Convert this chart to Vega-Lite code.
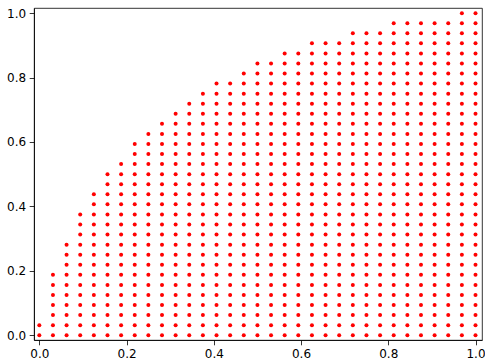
{
"$schema":"https://vega.github.io/schema/vega-lite/v6.json",
"width":448,"height":332,
"autosize":{"type":"none"},
"padding":{"left":34,"top":8,"right":3,"bottom":20},
"config":{"view":{"stroke":"#000000","strokeWidth":0.8},
"axis":{"grid":false,"domainColor":"#000000","domainWidth":0.8,"tickColor":"#000000","tickWidth":0.8,"tickSize":4.8,"labelFont":"DejaVu Sans","labelFontSize":12,"labelColor":"#000000","labelPadding":3.5,"title":null}},
"data":{"values":[
{"x":0,"y":0},{"x":0,"y":0.03125},
{"x":0.03125,"y":0},{"x":0.03125,"y":0.03125},{"x":0.03125,"y":0.0625},{"x":0.03125,"y":0.09375},{"x":0.03125,"y":0.125},{"x":0.03125,"y":0.15625},{"x":0.03125,"y":0.1875},
{"x":0.0625,"y":0},{"x":0.0625,"y":0.03125},{"x":0.0625,"y":0.0625},{"x":0.0625,"y":0.09375},{"x":0.0625,"y":0.125},{"x":0.0625,"y":0.15625},{"x":0.0625,"y":0.1875},{"x":0.0625,"y":0.21875},{"x":0.0625,"y":0.25},{"x":0.0625,"y":0.28125},
{"x":0.09375,"y":0},{"x":0.09375,"y":0.03125},{"x":0.09375,"y":0.0625},{"x":0.09375,"y":0.09375},{"x":0.09375,"y":0.125},{"x":0.09375,"y":0.15625},{"x":0.09375,"y":0.1875},{"x":0.09375,"y":0.21875},{"x":0.09375,"y":0.25},{"x":0.09375,"y":0.28125},{"x":0.09375,"y":0.3125},{"x":0.09375,"y":0.34375},{"x":0.09375,"y":0.375},
{"x":0.125,"y":0},{"x":0.125,"y":0.03125},{"x":0.125,"y":0.0625},{"x":0.125,"y":0.09375},{"x":0.125,"y":0.125},{"x":0.125,"y":0.15625},{"x":0.125,"y":0.1875},{"x":0.125,"y":0.21875},{"x":0.125,"y":0.25},{"x":0.125,"y":0.28125},{"x":0.125,"y":0.3125},{"x":0.125,"y":0.34375},{"x":0.125,"y":0.375},{"x":0.125,"y":0.40625},{"x":0.125,"y":0.4375},
{"x":0.15625,"y":0},{"x":0.15625,"y":0.03125},{"x":0.15625,"y":0.0625},{"x":0.15625,"y":0.09375},{"x":0.15625,"y":0.125},{"x":0.15625,"y":0.15625},{"x":0.15625,"y":0.1875},{"x":0.15625,"y":0.21875},{"x":0.15625,"y":0.25},{"x":0.15625,"y":0.28125},{"x":0.15625,"y":0.3125},{"x":0.15625,"y":0.34375},{"x":0.15625,"y":0.375},{"x":0.15625,"y":0.40625},{"x":0.15625,"y":0.4375},{"x":0.15625,"y":0.46875},{"x":0.15625,"y":0.5},
{"x":0.1875,"y":0},{"x":0.1875,"y":0.03125},{"x":0.1875,"y":0.0625},{"x":0.1875,"y":0.09375},{"x":0.1875,"y":0.125},{"x":0.1875,"y":0.15625},{"x":0.1875,"y":0.1875},{"x":0.1875,"y":0.21875},{"x":0.1875,"y":0.25},{"x":0.1875,"y":0.28125},{"x":0.1875,"y":0.3125},{"x":0.1875,"y":0.34375},{"x":0.1875,"y":0.375},{"x":0.1875,"y":0.40625},{"x":0.1875,"y":0.4375},{"x":0.1875,"y":0.46875},{"x":0.1875,"y":0.5},{"x":0.1875,"y":0.53125},
{"x":0.21875,"y":0},{"x":0.21875,"y":0.03125},{"x":0.21875,"y":0.0625},{"x":0.21875,"y":0.09375},{"x":0.21875,"y":0.125},{"x":0.21875,"y":0.15625},{"x":0.21875,"y":0.1875},{"x":0.21875,"y":0.21875},{"x":0.21875,"y":0.25},{"x":0.21875,"y":0.28125},{"x":0.21875,"y":0.3125},{"x":0.21875,"y":0.34375},{"x":0.21875,"y":0.375},{"x":0.21875,"y":0.40625},{"x":0.21875,"y":0.4375},{"x":0.21875,"y":0.46875},{"x":0.21875,"y":0.5},{"x":0.21875,"y":0.53125},{"x":0.21875,"y":0.5625},{"x":0.21875,"y":0.59375},
{"x":0.25,"y":0},{"x":0.25,"y":0.03125},{"x":0.25,"y":0.0625},{"x":0.25,"y":0.09375},{"x":0.25,"y":0.125},{"x":0.25,"y":0.15625},{"x":0.25,"y":0.1875},{"x":0.25,"y":0.21875},{"x":0.25,"y":0.25},{"x":0.25,"y":0.28125},{"x":0.25,"y":0.3125},{"x":0.25,"y":0.34375},{"x":0.25,"y":0.375},{"x":0.25,"y":0.40625},{"x":0.25,"y":0.4375},{"x":0.25,"y":0.46875},{"x":0.25,"y":0.5},{"x":0.25,"y":0.53125},{"x":0.25,"y":0.5625},{"x":0.25,"y":0.59375},{"x":0.25,"y":0.625},
{"x":0.28125,"y":0},{"x":0.28125,"y":0.03125},{"x":0.28125,"y":0.0625},{"x":0.28125,"y":0.09375},{"x":0.28125,"y":0.125},{"x":0.28125,"y":0.15625},{"x":0.28125,"y":0.1875},{"x":0.28125,"y":0.21875},{"x":0.28125,"y":0.25},{"x":0.28125,"y":0.28125},{"x":0.28125,"y":0.3125},{"x":0.28125,"y":0.34375},{"x":0.28125,"y":0.375},{"x":0.28125,"y":0.40625},{"x":0.28125,"y":0.4375},{"x":0.28125,"y":0.46875},{"x":0.28125,"y":0.5},{"x":0.28125,"y":0.53125},{"x":0.28125,"y":0.5625},{"x":0.28125,"y":0.59375},{"x":0.28125,"y":0.625},{"x":0.28125,"y":0.65625},
{"x":0.3125,"y":0},{"x":0.3125,"y":0.03125},{"x":0.3125,"y":0.0625},{"x":0.3125,"y":0.09375},{"x":0.3125,"y":0.125},{"x":0.3125,"y":0.15625},{"x":0.3125,"y":0.1875},{"x":0.3125,"y":0.21875},{"x":0.3125,"y":0.25},{"x":0.3125,"y":0.28125},{"x":0.3125,"y":0.3125},{"x":0.3125,"y":0.34375},{"x":0.3125,"y":0.375},{"x":0.3125,"y":0.40625},{"x":0.3125,"y":0.4375},{"x":0.3125,"y":0.46875},{"x":0.3125,"y":0.5},{"x":0.3125,"y":0.53125},{"x":0.3125,"y":0.5625},{"x":0.3125,"y":0.59375},{"x":0.3125,"y":0.625},{"x":0.3125,"y":0.65625},{"x":0.3125,"y":0.6875},
{"x":0.34375,"y":0},{"x":0.34375,"y":0.03125},{"x":0.34375,"y":0.0625},{"x":0.34375,"y":0.09375},{"x":0.34375,"y":0.125},{"x":0.34375,"y":0.15625},{"x":0.34375,"y":0.1875},{"x":0.34375,"y":0.21875},{"x":0.34375,"y":0.25},{"x":0.34375,"y":0.28125},{"x":0.34375,"y":0.3125},{"x":0.34375,"y":0.34375},{"x":0.34375,"y":0.375},{"x":0.34375,"y":0.40625},{"x":0.34375,"y":0.4375},{"x":0.34375,"y":0.46875},{"x":0.34375,"y":0.5},{"x":0.34375,"y":0.53125},{"x":0.34375,"y":0.5625},{"x":0.34375,"y":0.59375},{"x":0.34375,"y":0.625},{"x":0.34375,"y":0.65625},{"x":0.34375,"y":0.6875},{"x":0.34375,"y":0.71875},
{"x":0.375,"y":0},{"x":0.375,"y":0.03125},{"x":0.375,"y":0.0625},{"x":0.375,"y":0.09375},{"x":0.375,"y":0.125},{"x":0.375,"y":0.15625},{"x":0.375,"y":0.1875},{"x":0.375,"y":0.21875},{"x":0.375,"y":0.25},{"x":0.375,"y":0.28125},{"x":0.375,"y":0.3125},{"x":0.375,"y":0.34375},{"x":0.375,"y":0.375},{"x":0.375,"y":0.40625},{"x":0.375,"y":0.4375},{"x":0.375,"y":0.46875},{"x":0.375,"y":0.5},{"x":0.375,"y":0.53125},{"x":0.375,"y":0.5625},{"x":0.375,"y":0.59375},{"x":0.375,"y":0.625},{"x":0.375,"y":0.65625},{"x":0.375,"y":0.6875},{"x":0.375,"y":0.71875},{"x":0.375,"y":0.75},
{"x":0.40625,"y":0},{"x":0.40625,"y":0.03125},{"x":0.40625,"y":0.0625},{"x":0.40625,"y":0.09375},{"x":0.40625,"y":0.125},{"x":0.40625,"y":0.15625},{"x":0.40625,"y":0.1875},{"x":0.40625,"y":0.21875},{"x":0.40625,"y":0.25},{"x":0.40625,"y":0.28125},{"x":0.40625,"y":0.3125},{"x":0.40625,"y":0.34375},{"x":0.40625,"y":0.375},{"x":0.40625,"y":0.40625},{"x":0.40625,"y":0.4375},{"x":0.40625,"y":0.46875},{"x":0.40625,"y":0.5},{"x":0.40625,"y":0.53125},{"x":0.40625,"y":0.5625},{"x":0.40625,"y":0.59375},{"x":0.40625,"y":0.625},{"x":0.40625,"y":0.65625},{"x":0.40625,"y":0.6875},{"x":0.40625,"y":0.71875},{"x":0.40625,"y":0.75},{"x":0.40625,"y":0.78125},
{"x":0.4375,"y":0},{"x":0.4375,"y":0.03125},{"x":0.4375,"y":0.0625},{"x":0.4375,"y":0.09375},{"x":0.4375,"y":0.125},{"x":0.4375,"y":0.15625},{"x":0.4375,"y":0.1875},{"x":0.4375,"y":0.21875},{"x":0.4375,"y":0.25},{"x":0.4375,"y":0.28125},{"x":0.4375,"y":0.3125},{"x":0.4375,"y":0.34375},{"x":0.4375,"y":0.375},{"x":0.4375,"y":0.40625},{"x":0.4375,"y":0.4375},{"x":0.4375,"y":0.46875},{"x":0.4375,"y":0.5},{"x":0.4375,"y":0.53125},{"x":0.4375,"y":0.5625},{"x":0.4375,"y":0.59375},{"x":0.4375,"y":0.625},{"x":0.4375,"y":0.65625},{"x":0.4375,"y":0.6875},{"x":0.4375,"y":0.71875},{"x":0.4375,"y":0.75},{"x":0.4375,"y":0.78125},
{"x":0.46875,"y":0},{"x":0.46875,"y":0.03125},{"x":0.46875,"y":0.0625},{"x":0.46875,"y":0.09375},{"x":0.46875,"y":0.125},{"x":0.46875,"y":0.15625},{"x":0.46875,"y":0.1875},{"x":0.46875,"y":0.21875},{"x":0.46875,"y":0.25},{"x":0.46875,"y":0.28125},{"x":0.46875,"y":0.3125},{"x":0.46875,"y":0.34375},{"x":0.46875,"y":0.375},{"x":0.46875,"y":0.40625},{"x":0.46875,"y":0.4375},{"x":0.46875,"y":0.46875},{"x":0.46875,"y":0.5},{"x":0.46875,"y":0.53125},{"x":0.46875,"y":0.5625},{"x":0.46875,"y":0.59375},{"x":0.46875,"y":0.625},{"x":0.46875,"y":0.65625},{"x":0.46875,"y":0.6875},{"x":0.46875,"y":0.71875},{"x":0.46875,"y":0.75},{"x":0.46875,"y":0.78125},{"x":0.46875,"y":0.8125},
{"x":0.5,"y":0},{"x":0.5,"y":0.03125},{"x":0.5,"y":0.0625},{"x":0.5,"y":0.09375},{"x":0.5,"y":0.125},{"x":0.5,"y":0.15625},{"x":0.5,"y":0.1875},{"x":0.5,"y":0.21875},{"x":0.5,"y":0.25},{"x":0.5,"y":0.28125},{"x":0.5,"y":0.3125},{"x":0.5,"y":0.34375},{"x":0.5,"y":0.375},{"x":0.5,"y":0.40625},{"x":0.5,"y":0.4375},{"x":0.5,"y":0.46875},{"x":0.5,"y":0.5},{"x":0.5,"y":0.53125},{"x":0.5,"y":0.5625},{"x":0.5,"y":0.59375},{"x":0.5,"y":0.625},{"x":0.5,"y":0.65625},{"x":0.5,"y":0.6875},{"x":0.5,"y":0.71875},{"x":0.5,"y":0.75},{"x":0.5,"y":0.78125},{"x":0.5,"y":0.8125},{"x":0.5,"y":0.84375},
{"x":0.53125,"y":0},{"x":0.53125,"y":0.03125},{"x":0.53125,"y":0.0625},{"x":0.53125,"y":0.09375},{"x":0.53125,"y":0.125},{"x":0.53125,"y":0.15625},{"x":0.53125,"y":0.1875},{"x":0.53125,"y":0.21875},{"x":0.53125,"y":0.25},{"x":0.53125,"y":0.28125},{"x":0.53125,"y":0.3125},{"x":0.53125,"y":0.34375},{"x":0.53125,"y":0.375},{"x":0.53125,"y":0.40625},{"x":0.53125,"y":0.4375},{"x":0.53125,"y":0.46875},{"x":0.53125,"y":0.5},{"x":0.53125,"y":0.53125},{"x":0.53125,"y":0.5625},{"x":0.53125,"y":0.59375},{"x":0.53125,"y":0.625},{"x":0.53125,"y":0.65625},{"x":0.53125,"y":0.6875},{"x":0.53125,"y":0.71875},{"x":0.53125,"y":0.75},{"x":0.53125,"y":0.78125},{"x":0.53125,"y":0.8125},{"x":0.53125,"y":0.84375},
{"x":0.5625,"y":0},{"x":0.5625,"y":0.03125},{"x":0.5625,"y":0.0625},{"x":0.5625,"y":0.09375},{"x":0.5625,"y":0.125},{"x":0.5625,"y":0.15625},{"x":0.5625,"y":0.1875},{"x":0.5625,"y":0.21875},{"x":0.5625,"y":0.25},{"x":0.5625,"y":0.28125},{"x":0.5625,"y":0.3125},{"x":0.5625,"y":0.34375},{"x":0.5625,"y":0.375},{"x":0.5625,"y":0.40625},{"x":0.5625,"y":0.4375},{"x":0.5625,"y":0.46875},{"x":0.5625,"y":0.5},{"x":0.5625,"y":0.53125},{"x":0.5625,"y":0.5625},{"x":0.5625,"y":0.59375},{"x":0.5625,"y":0.625},{"x":0.5625,"y":0.65625},{"x":0.5625,"y":0.6875},{"x":0.5625,"y":0.71875},{"x":0.5625,"y":0.75},{"x":0.5625,"y":0.78125},{"x":0.5625,"y":0.8125},{"x":0.5625,"y":0.84375},{"x":0.5625,"y":0.875},
{"x":0.59375,"y":0},{"x":0.59375,"y":0.03125},{"x":0.59375,"y":0.0625},{"x":0.59375,"y":0.09375},{"x":0.59375,"y":0.125},{"x":0.59375,"y":0.15625},{"x":0.59375,"y":0.1875},{"x":0.59375,"y":0.21875},{"x":0.59375,"y":0.25},{"x":0.59375,"y":0.28125},{"x":0.59375,"y":0.3125},{"x":0.59375,"y":0.34375},{"x":0.59375,"y":0.375},{"x":0.59375,"y":0.40625},{"x":0.59375,"y":0.4375},{"x":0.59375,"y":0.46875},{"x":0.59375,"y":0.5},{"x":0.59375,"y":0.53125},{"x":0.59375,"y":0.5625},{"x":0.59375,"y":0.59375},{"x":0.59375,"y":0.625},{"x":0.59375,"y":0.65625},{"x":0.59375,"y":0.6875},{"x":0.59375,"y":0.71875},{"x":0.59375,"y":0.75},{"x":0.59375,"y":0.78125},{"x":0.59375,"y":0.8125},{"x":0.59375,"y":0.84375},{"x":0.59375,"y":0.875},
{"x":0.625,"y":0},{"x":0.625,"y":0.03125},{"x":0.625,"y":0.0625},{"x":0.625,"y":0.09375},{"x":0.625,"y":0.125},{"x":0.625,"y":0.15625},{"x":0.625,"y":0.1875},{"x":0.625,"y":0.21875},{"x":0.625,"y":0.25},{"x":0.625,"y":0.28125},{"x":0.625,"y":0.3125},{"x":0.625,"y":0.34375},{"x":0.625,"y":0.375},{"x":0.625,"y":0.40625},{"x":0.625,"y":0.4375},{"x":0.625,"y":0.46875},{"x":0.625,"y":0.5},{"x":0.625,"y":0.53125},{"x":0.625,"y":0.5625},{"x":0.625,"y":0.59375},{"x":0.625,"y":0.625},{"x":0.625,"y":0.65625},{"x":0.625,"y":0.6875},{"x":0.625,"y":0.71875},{"x":0.625,"y":0.75},{"x":0.625,"y":0.78125},{"x":0.625,"y":0.8125},{"x":0.625,"y":0.84375},{"x":0.625,"y":0.875},{"x":0.625,"y":0.90625},
{"x":0.65625,"y":0},{"x":0.65625,"y":0.03125},{"x":0.65625,"y":0.0625},{"x":0.65625,"y":0.09375},{"x":0.65625,"y":0.125},{"x":0.65625,"y":0.15625},{"x":0.65625,"y":0.1875},{"x":0.65625,"y":0.21875},{"x":0.65625,"y":0.25},{"x":0.65625,"y":0.28125},{"x":0.65625,"y":0.3125},{"x":0.65625,"y":0.34375},{"x":0.65625,"y":0.375},{"x":0.65625,"y":0.40625},{"x":0.65625,"y":0.4375},{"x":0.65625,"y":0.46875},{"x":0.65625,"y":0.5},{"x":0.65625,"y":0.53125},{"x":0.65625,"y":0.5625},{"x":0.65625,"y":0.59375},{"x":0.65625,"y":0.625},{"x":0.65625,"y":0.65625},{"x":0.65625,"y":0.6875},{"x":0.65625,"y":0.71875},{"x":0.65625,"y":0.75},{"x":0.65625,"y":0.78125},{"x":0.65625,"y":0.8125},{"x":0.65625,"y":0.84375},{"x":0.65625,"y":0.875},{"x":0.65625,"y":0.90625},
{"x":0.6875,"y":0},{"x":0.6875,"y":0.03125},{"x":0.6875,"y":0.0625},{"x":0.6875,"y":0.09375},{"x":0.6875,"y":0.125},{"x":0.6875,"y":0.15625},{"x":0.6875,"y":0.1875},{"x":0.6875,"y":0.21875},{"x":0.6875,"y":0.25},{"x":0.6875,"y":0.28125},{"x":0.6875,"y":0.3125},{"x":0.6875,"y":0.34375},{"x":0.6875,"y":0.375},{"x":0.6875,"y":0.40625},{"x":0.6875,"y":0.4375},{"x":0.6875,"y":0.46875},{"x":0.6875,"y":0.5},{"x":0.6875,"y":0.53125},{"x":0.6875,"y":0.5625},{"x":0.6875,"y":0.59375},{"x":0.6875,"y":0.625},{"x":0.6875,"y":0.65625},{"x":0.6875,"y":0.6875},{"x":0.6875,"y":0.71875},{"x":0.6875,"y":0.75},{"x":0.6875,"y":0.78125},{"x":0.6875,"y":0.8125},{"x":0.6875,"y":0.84375},{"x":0.6875,"y":0.875},{"x":0.6875,"y":0.90625},
{"x":0.71875,"y":0},{"x":0.71875,"y":0.03125},{"x":0.71875,"y":0.0625},{"x":0.71875,"y":0.09375},{"x":0.71875,"y":0.125},{"x":0.71875,"y":0.15625},{"x":0.71875,"y":0.1875},{"x":0.71875,"y":0.21875},{"x":0.71875,"y":0.25},{"x":0.71875,"y":0.28125},{"x":0.71875,"y":0.3125},{"x":0.71875,"y":0.34375},{"x":0.71875,"y":0.375},{"x":0.71875,"y":0.40625},{"x":0.71875,"y":0.4375},{"x":0.71875,"y":0.46875},{"x":0.71875,"y":0.5},{"x":0.71875,"y":0.53125},{"x":0.71875,"y":0.5625},{"x":0.71875,"y":0.59375},{"x":0.71875,"y":0.625},{"x":0.71875,"y":0.65625},{"x":0.71875,"y":0.6875},{"x":0.71875,"y":0.71875},{"x":0.71875,"y":0.75},{"x":0.71875,"y":0.78125},{"x":0.71875,"y":0.8125},{"x":0.71875,"y":0.84375},{"x":0.71875,"y":0.875},{"x":0.71875,"y":0.90625},{"x":0.71875,"y":0.9375},
{"x":0.75,"y":0},{"x":0.75,"y":0.03125},{"x":0.75,"y":0.0625},{"x":0.75,"y":0.09375},{"x":0.75,"y":0.125},{"x":0.75,"y":0.15625},{"x":0.75,"y":0.1875},{"x":0.75,"y":0.21875},{"x":0.75,"y":0.25},{"x":0.75,"y":0.28125},{"x":0.75,"y":0.3125},{"x":0.75,"y":0.34375},{"x":0.75,"y":0.375},{"x":0.75,"y":0.40625},{"x":0.75,"y":0.4375},{"x":0.75,"y":0.46875},{"x":0.75,"y":0.5},{"x":0.75,"y":0.53125},{"x":0.75,"y":0.5625},{"x":0.75,"y":0.59375},{"x":0.75,"y":0.625},{"x":0.75,"y":0.65625},{"x":0.75,"y":0.6875},{"x":0.75,"y":0.71875},{"x":0.75,"y":0.75},{"x":0.75,"y":0.78125},{"x":0.75,"y":0.8125},{"x":0.75,"y":0.84375},{"x":0.75,"y":0.875},{"x":0.75,"y":0.90625},{"x":0.75,"y":0.9375},
{"x":0.78125,"y":0},{"x":0.78125,"y":0.03125},{"x":0.78125,"y":0.0625},{"x":0.78125,"y":0.09375},{"x":0.78125,"y":0.125},{"x":0.78125,"y":0.15625},{"x":0.78125,"y":0.1875},{"x":0.78125,"y":0.21875},{"x":0.78125,"y":0.25},{"x":0.78125,"y":0.28125},{"x":0.78125,"y":0.3125},{"x":0.78125,"y":0.34375},{"x":0.78125,"y":0.375},{"x":0.78125,"y":0.40625},{"x":0.78125,"y":0.4375},{"x":0.78125,"y":0.46875},{"x":0.78125,"y":0.5},{"x":0.78125,"y":0.53125},{"x":0.78125,"y":0.5625},{"x":0.78125,"y":0.59375},{"x":0.78125,"y":0.625},{"x":0.78125,"y":0.65625},{"x":0.78125,"y":0.6875},{"x":0.78125,"y":0.71875},{"x":0.78125,"y":0.75},{"x":0.78125,"y":0.78125},{"x":0.78125,"y":0.8125},{"x":0.78125,"y":0.84375},{"x":0.78125,"y":0.875},{"x":0.78125,"y":0.90625},{"x":0.78125,"y":0.9375},
{"x":0.8125,"y":0},{"x":0.8125,"y":0.03125},{"x":0.8125,"y":0.0625},{"x":0.8125,"y":0.09375},{"x":0.8125,"y":0.125},{"x":0.8125,"y":0.15625},{"x":0.8125,"y":0.1875},{"x":0.8125,"y":0.21875},{"x":0.8125,"y":0.25},{"x":0.8125,"y":0.28125},{"x":0.8125,"y":0.3125},{"x":0.8125,"y":0.34375},{"x":0.8125,"y":0.375},{"x":0.8125,"y":0.40625},{"x":0.8125,"y":0.4375},{"x":0.8125,"y":0.46875},{"x":0.8125,"y":0.5},{"x":0.8125,"y":0.53125},{"x":0.8125,"y":0.5625},{"x":0.8125,"y":0.59375},{"x":0.8125,"y":0.625},{"x":0.8125,"y":0.65625},{"x":0.8125,"y":0.6875},{"x":0.8125,"y":0.71875},{"x":0.8125,"y":0.75},{"x":0.8125,"y":0.78125},{"x":0.8125,"y":0.8125},{"x":0.8125,"y":0.84375},{"x":0.8125,"y":0.875},{"x":0.8125,"y":0.90625},{"x":0.8125,"y":0.9375},{"x":0.8125,"y":0.96875},
{"x":0.84375,"y":0},{"x":0.84375,"y":0.03125},{"x":0.84375,"y":0.0625},{"x":0.84375,"y":0.09375},{"x":0.84375,"y":0.125},{"x":0.84375,"y":0.15625},{"x":0.84375,"y":0.1875},{"x":0.84375,"y":0.21875},{"x":0.84375,"y":0.25},{"x":0.84375,"y":0.28125},{"x":0.84375,"y":0.3125},{"x":0.84375,"y":0.34375},{"x":0.84375,"y":0.375},{"x":0.84375,"y":0.40625},{"x":0.84375,"y":0.4375},{"x":0.84375,"y":0.46875},{"x":0.84375,"y":0.5},{"x":0.84375,"y":0.53125},{"x":0.84375,"y":0.5625},{"x":0.84375,"y":0.59375},{"x":0.84375,"y":0.625},{"x":0.84375,"y":0.65625},{"x":0.84375,"y":0.6875},{"x":0.84375,"y":0.71875},{"x":0.84375,"y":0.75},{"x":0.84375,"y":0.78125},{"x":0.84375,"y":0.8125},{"x":0.84375,"y":0.84375},{"x":0.84375,"y":0.875},{"x":0.84375,"y":0.90625},{"x":0.84375,"y":0.9375},{"x":0.84375,"y":0.96875},
{"x":0.875,"y":0},{"x":0.875,"y":0.03125},{"x":0.875,"y":0.0625},{"x":0.875,"y":0.09375},{"x":0.875,"y":0.125},{"x":0.875,"y":0.15625},{"x":0.875,"y":0.1875},{"x":0.875,"y":0.21875},{"x":0.875,"y":0.25},{"x":0.875,"y":0.28125},{"x":0.875,"y":0.3125},{"x":0.875,"y":0.34375},{"x":0.875,"y":0.375},{"x":0.875,"y":0.40625},{"x":0.875,"y":0.4375},{"x":0.875,"y":0.46875},{"x":0.875,"y":0.5},{"x":0.875,"y":0.53125},{"x":0.875,"y":0.5625},{"x":0.875,"y":0.59375},{"x":0.875,"y":0.625},{"x":0.875,"y":0.65625},{"x":0.875,"y":0.6875},{"x":0.875,"y":0.71875},{"x":0.875,"y":0.75},{"x":0.875,"y":0.78125},{"x":0.875,"y":0.8125},{"x":0.875,"y":0.84375},{"x":0.875,"y":0.875},{"x":0.875,"y":0.90625},{"x":0.875,"y":0.9375},{"x":0.875,"y":0.96875},
{"x":0.90625,"y":0},{"x":0.90625,"y":0.03125},{"x":0.90625,"y":0.0625},{"x":0.90625,"y":0.09375},{"x":0.90625,"y":0.125},{"x":0.90625,"y":0.15625},{"x":0.90625,"y":0.1875},{"x":0.90625,"y":0.21875},{"x":0.90625,"y":0.25},{"x":0.90625,"y":0.28125},{"x":0.90625,"y":0.3125},{"x":0.90625,"y":0.34375},{"x":0.90625,"y":0.375},{"x":0.90625,"y":0.40625},{"x":0.90625,"y":0.4375},{"x":0.90625,"y":0.46875},{"x":0.90625,"y":0.5},{"x":0.90625,"y":0.53125},{"x":0.90625,"y":0.5625},{"x":0.90625,"y":0.59375},{"x":0.90625,"y":0.625},{"x":0.90625,"y":0.65625},{"x":0.90625,"y":0.6875},{"x":0.90625,"y":0.71875},{"x":0.90625,"y":0.75},{"x":0.90625,"y":0.78125},{"x":0.90625,"y":0.8125},{"x":0.90625,"y":0.84375},{"x":0.90625,"y":0.875},{"x":0.90625,"y":0.90625},{"x":0.90625,"y":0.9375},{"x":0.90625,"y":0.96875},
{"x":0.9375,"y":0},{"x":0.9375,"y":0.03125},{"x":0.9375,"y":0.0625},{"x":0.9375,"y":0.09375},{"x":0.9375,"y":0.125},{"x":0.9375,"y":0.15625},{"x":0.9375,"y":0.1875},{"x":0.9375,"y":0.21875},{"x":0.9375,"y":0.25},{"x":0.9375,"y":0.28125},{"x":0.9375,"y":0.3125},{"x":0.9375,"y":0.34375},{"x":0.9375,"y":0.375},{"x":0.9375,"y":0.40625},{"x":0.9375,"y":0.4375},{"x":0.9375,"y":0.46875},{"x":0.9375,"y":0.5},{"x":0.9375,"y":0.53125},{"x":0.9375,"y":0.5625},{"x":0.9375,"y":0.59375},{"x":0.9375,"y":0.625},{"x":0.9375,"y":0.65625},{"x":0.9375,"y":0.6875},{"x":0.9375,"y":0.71875},{"x":0.9375,"y":0.75},{"x":0.9375,"y":0.78125},{"x":0.9375,"y":0.8125},{"x":0.9375,"y":0.84375},{"x":0.9375,"y":0.875},{"x":0.9375,"y":0.90625},{"x":0.9375,"y":0.9375},{"x":0.9375,"y":0.96875},
{"x":0.96875,"y":0},{"x":0.96875,"y":0.03125},{"x":0.96875,"y":0.0625},{"x":0.96875,"y":0.09375},{"x":0.96875,"y":0.125},{"x":0.96875,"y":0.15625},{"x":0.96875,"y":0.1875},{"x":0.96875,"y":0.21875},{"x":0.96875,"y":0.25},{"x":0.96875,"y":0.28125},{"x":0.96875,"y":0.3125},{"x":0.96875,"y":0.34375},{"x":0.96875,"y":0.375},{"x":0.96875,"y":0.40625},{"x":0.96875,"y":0.4375},{"x":0.96875,"y":0.46875},{"x":0.96875,"y":0.5},{"x":0.96875,"y":0.53125},{"x":0.96875,"y":0.5625},{"x":0.96875,"y":0.59375},{"x":0.96875,"y":0.625},{"x":0.96875,"y":0.65625},{"x":0.96875,"y":0.6875},{"x":0.96875,"y":0.71875},{"x":0.96875,"y":0.75},{"x":0.96875,"y":0.78125},{"x":0.96875,"y":0.8125},{"x":0.96875,"y":0.84375},{"x":0.96875,"y":0.875},{"x":0.96875,"y":0.90625},{"x":0.96875,"y":0.9375},{"x":0.96875,"y":0.96875},{"x":0.96875,"y":1},
{"x":1,"y":0},{"x":1,"y":0.03125},{"x":1,"y":0.0625},{"x":1,"y":0.09375},{"x":1,"y":0.125},{"x":1,"y":0.15625},{"x":1,"y":0.1875},{"x":1,"y":0.21875},{"x":1,"y":0.25},{"x":1,"y":0.28125},{"x":1,"y":0.3125},{"x":1,"y":0.34375},{"x":1,"y":0.375},{"x":1,"y":0.40625},{"x":1,"y":0.4375},{"x":1,"y":0.46875},{"x":1,"y":0.5},{"x":1,"y":0.53125},{"x":1,"y":0.5625},{"x":1,"y":0.59375},{"x":1,"y":0.625},{"x":1,"y":0.65625},{"x":1,"y":0.6875},{"x":1,"y":0.71875},{"x":1,"y":0.75},{"x":1,"y":0.78125},{"x":1,"y":0.8125},{"x":1,"y":0.84375},{"x":1,"y":0.875},{"x":1,"y":0.90625},{"x":1,"y":0.9375},{"x":1,"y":0.96875},{"x":1,"y":1}
]},
"mark":{"type":"circle","color":"#ff0000","opacity":1,"size":16},
"encoding":{
"x":{"field":"x","type":"quantitative","scale":{"domain":[-0.0122,1.0149],"nice":false,"zero":false},"axis":{"values":[0,0.2,0.4,0.6,0.8,1.0],"format":".1f"}},
"y":{"field":"y","type":"quantitative","scale":{"domain":[-0.0149,1.016],"nice":false,"zero":false},"axis":{"values":[0,0.2,0.4,0.6,0.8,1.0],"format":".1f"}}
}
}
